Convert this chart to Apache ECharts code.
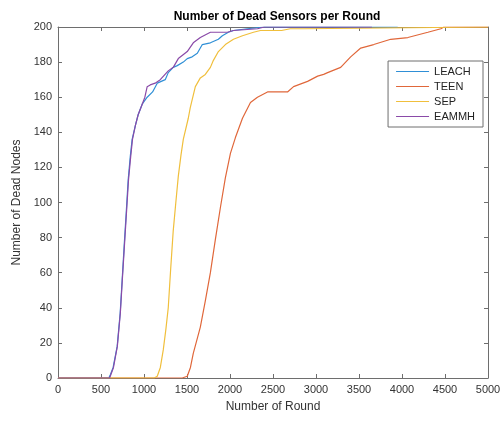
<!DOCTYPE html>
<html>
<head>
<meta charset="utf-8">
<script src="https://cdn.jsdelivr.net/npm/echarts@6/dist/echarts.min.js"></script>
<style>
  html, body { margin: 0; padding: 0; background: #fff; }
  #chart { width: 504px; height: 422px; }
</style>
</head>
<body>
<div id="chart"></div>
<script>
// Round numbers and cumulative dead-node counts for each protocol
const leachRounds = [0, 590, 610, 641, 688, 723, 746, 769, 793, 816, 840, 862, 900, 932, 979, 1037, 1100, 1154, 1247, 1282, 1340, 1387, 1457, 1503, 1560, 1620, 1678, 1772, 1865, 1911, 1981, 2040, 2200, 2400, 3950];
const leachDead   = [0, 0, 2, 6, 18, 37, 56, 75, 94, 113, 126, 136, 144, 150, 156, 160, 163, 168, 170, 174, 177, 178, 180, 182, 183, 185, 190, 191, 193, 195, 197, 198, 199, 200, 200];

const teenRounds = [0, 1445, 1503, 1540, 1573, 1655, 1713, 1772, 1830, 1888, 1946, 2005, 2063, 2145, 2238, 2319, 2436, 2622, 2669, 2739, 2902, 3019, 3089, 3135, 3287, 3403, 3520, 3671, 3869, 4068, 4301, 4452, 4487, 5000];
const teenDead   = [0, 0, 1, 6, 14, 29, 44, 60, 79, 97, 114, 128, 137, 148, 157, 160, 163, 163, 163, 166, 169, 172, 173, 174, 177, 183, 188, 190, 193, 194, 197, 199, 200, 200];

const sepRounds = [0, 1119, 1154, 1190, 1224, 1255, 1282, 1310, 1340, 1370, 1399, 1430, 1457, 1515, 1538, 1597, 1655, 1713, 1772, 1807, 1865, 1946, 2040, 2145, 2273, 2354, 2600, 2700, 2855, 2870, 5000];
const sepDead   = [0, 0, 1, 6, 16, 28, 40, 62, 84, 100, 115, 127, 136, 148, 154, 166, 171, 173, 177, 181, 186, 190, 193, 195, 197, 198, 198, 199, 199, 200, 200];

const eammhRounds = [0, 600, 615, 645, 690, 725, 748, 772, 796, 820, 845, 866, 900, 932, 979, 1010, 1037, 1072, 1130, 1189, 1282, 1340, 1399, 1503, 1573, 1655, 1772, 1970, 2040, 2319, 2400, 3650];
const eammhDead   = [0, 0, 2, 6, 18, 37, 56, 75, 94, 113, 126, 136, 144, 150, 156, 160, 166, 167, 168, 170, 175, 177, 182, 186, 191, 194, 197, 197, 198, 199, 200, 200];

const protocolNames = ['LEACH', 'TEEN', 'SEP', 'EAMMH'];
const protocolColors = ['#2f8fd6', '#e0673a', '#f0bf3c', '#8a4aa8'];

function pairs(xs, ys) {
  return xs.map((x, i) => [x, ys[i]]);
}

const seriesData = [
  pairs(leachRounds, leachDead),
  pairs(teenRounds, teenDead),
  pairs(sepRounds, sepDead),
  pairs(eammhRounds, eammhDead)
];

const FONT = '"Liberation Sans", Arial, Helvetica, sans-serif';
const AXIS_COLOR = '#6e6e6e';
const TEXT_COLOR = '#333333';

const chart = echarts.init(document.getElementById('chart'), null, { renderer: 'canvas' });

// Box frame: top and right axes carry ticks but no labels
const frameAxis = {
  min: 0,
  axisLine: { show: true, onZero: false, lineStyle: { color: AXIS_COLOR, width: 1 } },
  axisTick: { show: true, inside: true, length: 4, lineStyle: { color: AXIS_COLOR } },
  axisLabel: { show: false },
  splitLine: { show: false }
};

const plainNumber = v => String(v);

chart.setOption({
  backgroundColor: '#ffffff',
  animation: false,
  title: {
    text: 'Number of Dead Sensors per Round',
    left: 272,
    textAlign: 'center',
    top: 6,
    textStyle: { fontFamily: FONT, fontSize: 12, fontWeight: 'bold', color: '#000' }
  },
  grid: { left: 58, right: 16, top: 27, bottom: 44, containLabel: false },
  legend: {
    data: protocolNames,
    orient: 'vertical',
    right: 21,
    top: 61,
    backgroundColor: '#ffffff',
    borderColor: '#6e6e6e',
    borderWidth: 1,
    padding: [5, 8, 5, 8],
    itemWidth: 33,
    itemHeight: 11,
    itemGap: 4,
    icon: 'path://M0,5 L33,5 L33,6 L0,6 Z',
    textStyle: { fontFamily: FONT, fontSize: 11, color: '#222' }
  },
  xAxis: [
    {
      type: 'value',
      min: 0,
      max: 5000,
      interval: 500,
      position: 'bottom',
      name: 'Number of Round',
      nameLocation: 'middle',
      nameGap: 23,
      nameTextStyle: { fontFamily: FONT, fontSize: 12, color: TEXT_COLOR },
      axisLine: { show: true, onZero: false, lineStyle: { color: AXIS_COLOR, width: 1 } },
      axisTick: { show: true, inside: true, length: 4, lineStyle: { color: AXIS_COLOR } },
      axisLabel: { fontFamily: FONT, fontSize: 11, color: TEXT_COLOR, margin: 6, formatter: plainNumber },
      splitLine: { show: false }
    },
    Object.assign({}, frameAxis, { type: 'value', max: 5000, interval: 500, position: 'top' })
  ],
  yAxis: [
    {
      type: 'value',
      min: 0,
      max: 200,
      interval: 20,
      position: 'left',
      name: 'Number of Dead Nodes',
      nameLocation: 'middle',
      nameGap: 28,
      nameTextStyle: { fontFamily: FONT, fontSize: 12, color: TEXT_COLOR },
      axisLine: { show: true, onZero: false, lineStyle: { color: AXIS_COLOR, width: 1 } },
      axisTick: { show: true, inside: true, length: 4, lineStyle: { color: AXIS_COLOR } },
      axisLabel: { fontFamily: FONT, fontSize: 11, color: TEXT_COLOR, margin: 6, formatter: plainNumber },
      splitLine: { show: false }
    },
    Object.assign({}, frameAxis, { type: 'value', max: 200, interval: 20, position: 'right' })
  ],
  series: protocolNames.map((name, i) => ({
    name: name,
    type: 'line',
    xAxisIndex: 0,
    yAxisIndex: 0,
    data: seriesData[i],
    showSymbol: false,
    symbol: 'none',
    smooth: false,
    color: protocolColors[i],
    lineStyle: { color: protocolColors[i], width: 1.2 },
    z: 2 + i
  }))
});
</script>
</body>
</html>
